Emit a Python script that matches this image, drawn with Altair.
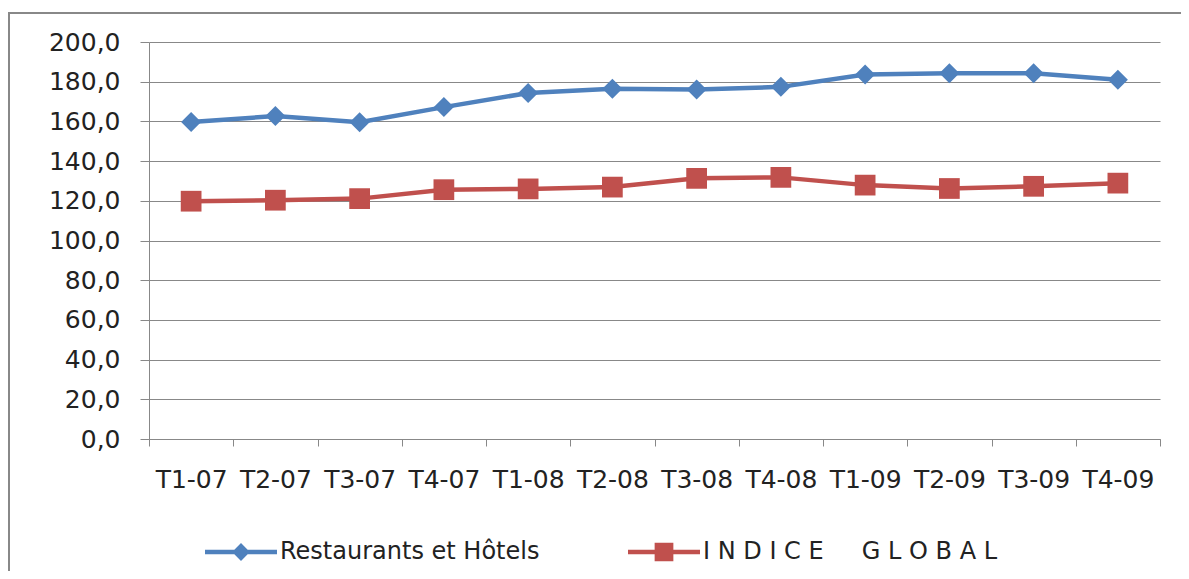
import altair as alt
import pandas as pd

categories = ["T1-07", "T2-07", "T3-07", "T4-07", "T1-08", "T2-08",
              "T3-08", "T4-08", "T1-09", "T2-09", "T3-09", "T4-09"]
resto = [159.7, 162.7, 159.6, 167.2, 174.3, 176.5, 176.1, 177.4, 183.6, 184.2, 184.2, 181.0]
indice = [119.8, 120.3, 121.1, 125.6, 126.0, 126.9, 131.3, 131.8, 127.9, 126.2, 127.3, 128.9]
NB = "\u00a0"
series_names = ["Restaurants et Hôtels",
                NB.join(list("INDICE")) + NB * 5 + NB.join(list("GLOBAL"))]
y_ticks = [0, 20, 40, 60, 80, 100, 120, 140, 160, 180, 200]

colors = ["#4F81BD", "#C0504D"]
GRAY = "#888888"
FONT = "DejaVu Sans"

rows = []
for name, vals in zip(series_names, [resto, indice]):
    for c, v in zip(categories, vals):
        rows.append({"cat": c, "serie": name, "val": v})
df = pd.DataFrame(rows)

x_enc = alt.X("cat:N", sort=categories,
              scale=alt.Scale(type="band", paddingInner=0, paddingOuter=0),
              axis=alt.Axis(title=None, labelAngle=0, tickBand="extent", grid=False,
                            domainColor=GRAY, tickColor=GRAY, tickSize=7,
                            labelFont=FONT, labelFontSize=25, labelColor="#222222",
                            labelPadding=21))
y_enc = alt.Y("val:Q", scale=alt.Scale(domain=[0, 200], nice=False),
              axis=alt.Axis(title=None, values=y_ticks, grid=True, gridColor=GRAY,
                            domainColor=GRAY, tickColor=GRAY, tickSize=9,
                            labelFont=FONT, labelFontSize=25, labelColor="#222222",
                            labelPadding=20,
                            labelExpr="replace(format(datum.value, '.1f'), '.', ',')"))

color_nolegend = alt.Color("serie:N", scale=alt.Scale(domain=series_names, range=colors), legend=None)

lines = alt.Chart(df).mark_line(strokeWidth=4.5).encode(
    x=x_enc, y=y_enc, color=color_nolegend, detail="serie:N")

points = alt.Chart(df).mark_point(filled=True, opacity=1, strokeWidth=0).encode(
    x=x_enc, y=y_enc, color=color_nolegend,
    shape=alt.Shape("serie:N", scale=alt.Scale(domain=series_names, range=["diamond", "square"]), legend=None),
    size=alt.Size("serie:N", scale=alt.Scale(domain=series_names, range=[400, 430]), legend=None))

diamond_line = "M-1,-0.065H-0.185L0,-0.25L0.185,-0.065H1V0.065H0.185L0,0.25L-0.185,0.065H-1Z"
square_line = "M-1,-0.065H-0.26V-0.26H0.26V-0.065H1V0.065H0.26V0.26H-0.26V0.065H-1Z"

leg = alt.Legend(title=None, orient="none", legendX=56, legendY=474,
                 direction="horizontal", columns=2, padding=0,
                 symbolSize=5184, symbolStrokeWidth=0,
                 labelFont=FONT, labelFontSize=24, labelColor="#222222",
                 labelOffset=3, columnPadding=88, labelLimit=600)

legend_layer = alt.Chart(df).transform_filter("datum.val < 0").mark_point(filled=True, opacity=1).encode(
    x=x_enc, y=y_enc,
    color=alt.Color("serie:N", scale=alt.Scale(domain=series_names, range=colors), legend=leg),
    shape=alt.Shape("serie:N", scale=alt.Scale(domain=series_names, range=[diamond_line, square_line]),
                    legend=leg))

one = pd.DataFrame({"a": [0]})
frame_left = alt.Chart(one).mark_rule(stroke=GRAY, strokeWidth=2).encode(
    x=alt.value(-140), y=alt.value(-30), y2=alt.value(3000))
frame_top = alt.Chart(one).mark_rule(stroke=GRAY, strokeWidth=2).encode(
    x=alt.value(-141), x2=alt.value(3000), y=alt.value(-29))

chart = alt.layer(frame_left, frame_top, lines, points, legend_layer).resolve_scale(
    color="independent", shape="independent", size="independent"
).properties(
    width=1011, height=397,
    padding={"left": 141, "top": 34, "right": 21, "bottom": 132},
    autosize=alt.AutoSizeParams(type="none"),
    background="white",
).configure_view(strokeWidth=0).configure_legend(
    labelFont=FONT, labelFontSize=24, labelColor="#222222"
)

chart.save("out.html", embed_options={"renderer": "svg", "actions": False})
